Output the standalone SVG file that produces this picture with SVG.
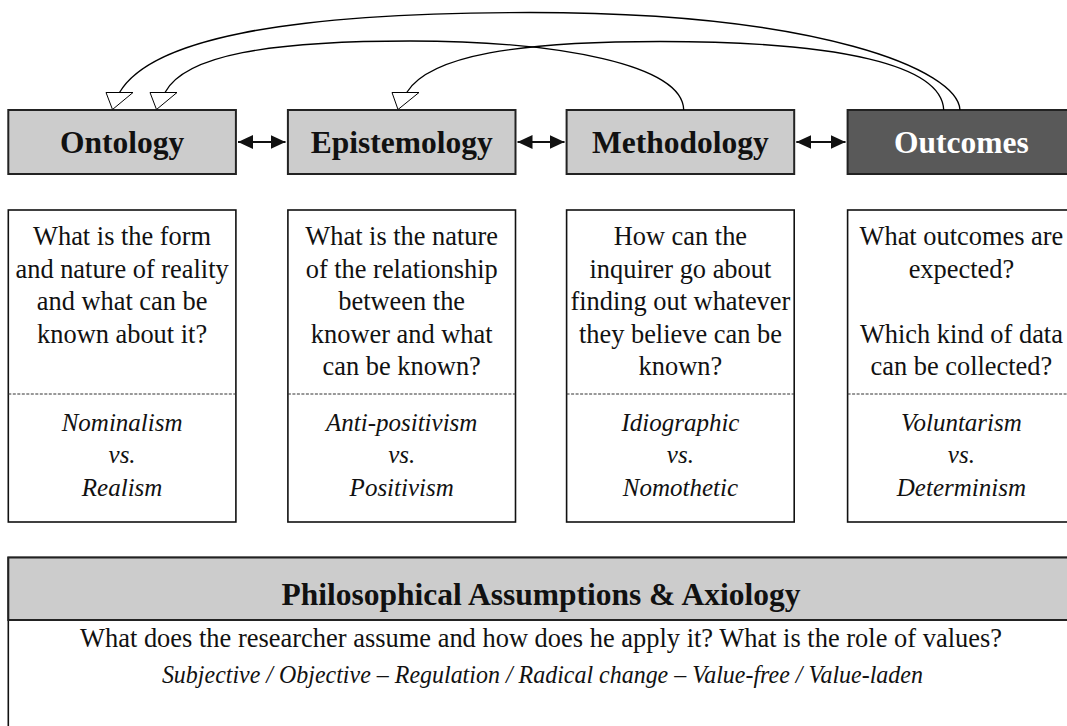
<svg xmlns="http://www.w3.org/2000/svg" width="1067" height="726" viewBox="0 0 1067 726">
  <style>
    .hdr { fill: #cccccc; stroke: #222222; stroke-width: 2; }
    .hdr-dark { fill: #595959; stroke: #222222; stroke-width: 2; }
    .card { fill: #ffffff; stroke: #111111; stroke-width: 1.6; }
    .sep { stroke: #333333; stroke-width: 1; stroke-dasharray: 3 1.5; }
    .title { font-family: "Liberation Serif", "Times New Roman", serif; font-weight: bold; font-size: 31.5px; text-anchor: middle; fill: #111111; }
    .body { font-family: "Liberation Serif", "Times New Roman", serif; font-size: 26.4px; text-anchor: middle; fill: #111111; }
    .ital { font-family: "Liberation Serif", "Times New Roman", serif; font-style: italic; font-size: 25px; text-anchor: middle; fill: #111111; }
    .arc { fill: none; stroke: #000000; stroke-width: 1.3; }
    .head { fill: #ffffff; stroke: #000000; stroke-width: 1; stroke-linejoin: miter; }
    .link { stroke: #111111; stroke-width: 2; marker-start: url(#tip); marker-end: url(#tip); }
  </style>
  <defs>
    <marker id="tip" markerUnits="userSpaceOnUse" markerWidth="15" markerHeight="14" refX="15" refY="7" orient="auto-start-reverse">
      <path d="M0,0 L15,7 L0,14 z" fill="#111111"/>
    </marker>
  </defs>

  <rect width="1067" height="726" fill="#ffffff"/>

  <!-- header row -->
  <g id="ontology">
    <rect class="hdr" x="8.3" y="110" width="227.6" height="64"/>
    <text class="title" x="122.1" y="153">Ontology</text>
  </g>
  <g id="epistemology">
    <rect class="hdr" x="287.9" y="110" width="227.6" height="64"/>
    <text class="title" x="401.7" y="153">Epistemology</text>
  </g>
  <g id="methodology">
    <rect class="hdr" x="566.6" y="110" width="227.6" height="64"/>
    <text class="title" x="680.4" y="153">Methodology</text>
  </g>
  <g id="outcomes">
    <rect class="hdr-dark" x="847.6" y="110" width="227.6" height="64"/>
    <text class="title" x="961.4" y="153" style="fill:#ffffff">Outcomes</text>
  </g>

  <!-- question cards -->
  <g id="ontology-card">
    <rect class="card" x="8.3" y="210" width="227.6" height="312"/>
    <line class="sep" x1="8.3" y1="394" x2="235.9" y2="394"/>
    <text class="body" x="122.1" y="245">What is the form</text>
    <text class="body" x="122.1" y="277.5">and nature of reality</text>
    <text class="body" x="122.1" y="310">and what can be</text>
    <text class="body" x="122.1" y="342.5">known about it?</text>
    <text class="ital" x="122.1" y="431">Nominalism</text>
    <text class="ital" x="122.1" y="463.3">vs.</text>
    <text class="ital" x="122.1" y="495.5">Realism</text>
  </g>
  <g id="epistemology-card">
    <rect class="card" x="287.9" y="210" width="227.6" height="312"/>
    <line class="sep" x1="287.9" y1="394" x2="515.5" y2="394"/>
    <text class="body" x="401.7" y="245">What is the nature</text>
    <text class="body" x="401.7" y="277.5">of the relationship</text>
    <text class="body" x="401.7" y="310">between the</text>
    <text class="body" x="401.7" y="342.5">knower and what</text>
    <text class="body" x="401.7" y="375">can be known?</text>
    <text class="ital" x="401.7" y="431">Anti-positivism</text>
    <text class="ital" x="401.7" y="463.3">vs.</text>
    <text class="ital" x="401.7" y="495.5">Positivism</text>
  </g>
  <g id="methodology-card">
    <rect class="card" x="566.6" y="210" width="227.6" height="312"/>
    <line class="sep" x1="566.6" y1="394" x2="794.2" y2="394"/>
    <text class="body" x="680.4" y="245">How can the</text>
    <text class="body" x="680.4" y="277.5">inquirer go about</text>
    <text class="body" x="680.4" y="310">finding out whatever</text>
    <text class="body" x="680.4" y="342.5">they believe can be</text>
    <text class="body" x="680.4" y="375">known?</text>
    <text class="ital" x="680.4" y="431">Idiographic</text>
    <text class="ital" x="680.4" y="463.3">vs.</text>
    <text class="ital" x="680.4" y="495.5">Nomothetic</text>
  </g>
  <g id="outcomes-card">
    <rect class="card" x="847.6" y="210" width="227.6" height="312"/>
    <line class="sep" x1="847.6" y1="394" x2="1075.2" y2="394"/>
    <text class="body" x="961.4" y="245">What outcomes are</text>
    <text class="body" x="961.4" y="277.5">expected?</text>
    <text class="body" x="961.4" y="342.5">Which kind of data</text>
    <text class="body" x="961.4" y="375">can be collected?</text>
    <text class="ital" x="961.4" y="431">Voluntarism</text>
    <text class="ital" x="961.4" y="463.3">vs.</text>
    <text class="ital" x="961.4" y="495.5">Determinism</text>
  </g>

  <!-- axiology panel -->
  <g id="axiology">
    <rect class="card" x="8.3" y="557.5" width="1066.9" height="200"/>
    <rect class="hdr" x="8.3" y="557.5" width="1066.9" height="62.5"/>
    <text class="title" x="541" y="605">Philosophical Assumptions &amp; Axiology</text>
    <text class="body" x="541" y="647" textLength="922" lengthAdjust="spacingAndGlyphs">What does the researcher assume and how does he apply it? What is the role of values?</text>
    <text class="ital" x="542.4" y="683" textLength="761" lengthAdjust="spacingAndGlyphs">Subjective / Objective – Regulation / Radical change – Value-free / Value-laden</text>
  </g>

  <!-- connectors -->
  <g id="connectors">
    <line class="link" x1="238" y1="142" x2="285.5" y2="142"/>
    <line class="link" x1="517.5" y1="142" x2="564.5" y2="142"/>
    <line class="link" x1="796.3" y1="142" x2="845.5" y2="142"/>

    <path class="arc" d="M960,110 C958,70 820,12.5 530,12.5 C280,12.5 150,40 119.5,92.5"/>
    <path class="arc" d="M683.7,110 C683,65 560,41 410,41 C270,41 185,55 165,92.5"/>
    <path class="arc" d="M943.7,110 C942,65 840,41.5 660,41.5 C520,41.5 430,55 406.7,92.5"/>

    <polygon class="head" points="106,92.5 133,92.5 112.5,109.5"/>
    <polygon class="head" points="150,92.5 177,92.5 156.5,109.5"/>
    <polygon class="head" points="392,92.5 419,92.5 398,109.5"/>
  </g>
</svg>
